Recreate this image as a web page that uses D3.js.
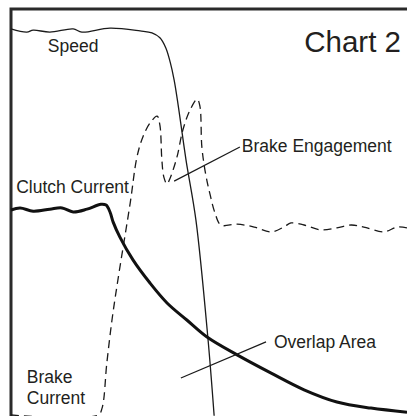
<!DOCTYPE html>
<html>
<head>
<meta charset="utf-8">
<script src="https://cdn.jsdelivr.net/npm/d3@7"></script>
<style>
  body { margin: 0; background: #fff; }
  text { font-family: "Liberation Sans", Arial, Helvetica, sans-serif; fill: #231f20; }
</style>
</head>
<body>
<div id="chart"></div>
<script>
// time (0-100) vs level (0-100)
var speed = [
  [0, 95.1], [4.0, 94.3], [5.6, 94.8], [9.8, 94.3], [15.7, 95.1], [17.9, 94.3],
  [25.0, 95.3], [32.6, 94.6], [35.6, 94.1], [37.6, 92.9], [39.1, 90.4], [40.2, 86.9],
  [41.2, 82.5], [42.2, 76.4], [44.2, 62.8], [46.7, 48.0], [49.7, 19.2], [51.3, -0.2]
];
var clutchCurrent = [
  [0, 50.5], [2.3, 51.0], [5.6, 50.2], [9.8, 50.7], [12.9, 51.0], [15.7, 50.0],
  [19.2, 50.7], [22.7, 51.9], [24.0, 51.7], [25.0, 50.0], [25.8, 47.5], [27.5, 43.8],
  [30.8, 38.2], [35.1, 32.5], [39.4, 27.6], [44.4, 23.4], [49.5, 19.2], [57.1, 14.8],
  [65.7, 10.3], [74.0, 6.2], [82.3, 3.2], [90.9, 1.7], [100, 0.7]
];
var brakeEngagement = [
  [0, 0], [22.0, 0], [23.0, 1.7], [24.2, 12.8], [25.5, 23.4], [27.0, 33.3],
  [30.1, 52.2], [31.8, 63.5], [33.3, 68.5], [35.1, 71.9], [36.9, 73.6], [37.6, 71.4],
  [38.1, 62.8], [38.6, 58.6], [39.4, 56.9], [40.2, 58.4], [41.9, 63.5], [43.4, 70.2],
  [45.2, 75.1], [47.0, 77.8], [47.7, 76.1], [48.2, 66.0], [49.2, 59.1], [50.3, 54.2],
  [51.5, 49.8], [53.0, 46.8], [57.1, 47.0], [61.4, 46.3], [65.7, 45.1], [68.9, 46.3],
  [70.7, 47.3], [74.0, 46.8], [78.3, 45.6], [82.3, 46.1], [85.9, 46.8], [89.1, 46.3],
  [94.2, 45.1], [97.5, 46.3], [100, 46.1]
];

// labels: text lines, anchor (time, level)
var labels = [
  { lines: ["Speed"], at: [9.3, 89.4] },
  { lines: ["Brake Engagement"], at: [58.3, 64.8] },
  { lines: ["Clutch Current"], at: [1.3, 54.7] },
  { lines: ["Overlap Area"], at: [66.4, 16.5] },
  { lines: ["Brake", "Current"], at: [4.0, 7.9] }
];
// leader lines from curve to label
var leaders = [
  [[41.2, 57.6], [57.8, 66.0]],
  [[42.9, 9.1], [64.4, 18.0]]
];
var title = "Chart 2";

var width = 407, height = 416;
var x = d3.scaleLinear().domain([0, 100]).range([11, 407]);
var y = d3.scaleLinear().domain([0, 100]).range([415, 9]);

var svg = d3.select("#chart").append("svg")
  .attr("width", width)
  .attr("height", height);

var line = d3.line()
  .x(function (d) { return x(d[0]); })
  .y(function (d) { return y(d[1]); })
  .curve(d3.curveCatmullRom.alpha(0.5));

// frame: top and left only
svg.append("path")
  .attr("d", "M" + x(0) + "," + height + "V" + y(100) + "H" + width)
  .attr("fill", "none")
  .attr("stroke", "#2a2a2a")
  .attr("stroke-width", 3);

svg.append("path")
  .datum(brakeEngagement)
  .attr("d", line)
  .attr("fill", "none")
  .attr("stroke", "#1a1a1a")
  .attr("stroke-width", 1.3)
  .attr("stroke-dasharray", "8,5");

svg.append("path")
  .datum(speed)
  .attr("d", line)
  .attr("fill", "none")
  .attr("stroke", "#1a1a1a")
  .attr("stroke-width", 1.3);

svg.append("path")
  .datum(clutchCurrent)
  .attr("d", line)
  .attr("fill", "none")
  .attr("stroke", "#111")
  .attr("stroke-width", 3);

svg.selectAll(".leader")
  .data(leaders)
  .enter().append("line")
  .attr("class", "leader")
  .attr("x1", function (d) { return x(d[0][0]); })
  .attr("y1", function (d) { return y(d[0][1]); })
  .attr("x2", function (d) { return x(d[1][0]); })
  .attr("y2", function (d) { return y(d[1][1]); })
  .attr("stroke", "#1a1a1a")
  .attr("stroke-width", 1.2);

var lab = svg.selectAll(".label")
  .data(labels)
  .enter().append("text")
  .attr("class", "label")
  .attr("x", function (d) { return x(d.at[0]); })
  .attr("y", function (d) { return y(d.at[1]); })
  .style("font-size", "17.5px");
lab.selectAll("tspan")
  .data(function (d) { return d.lines.map(function (l) { return { t: l, x: x(d.at[0]) }; }); })
  .enter().append("tspan")
  .attr("x", function (d) { return d.x; })
  .attr("dy", function (d, i) { return i === 0 ? 0 : 21; })
  .text(function (d) { return d.t; });

svg.append("text")
  .attr("x", 401)
  .attr("y", 52)
  .attr("text-anchor", "end")
  .style("font-size", "29.5px")
  .text(title);
</script>
</body>
</html>
